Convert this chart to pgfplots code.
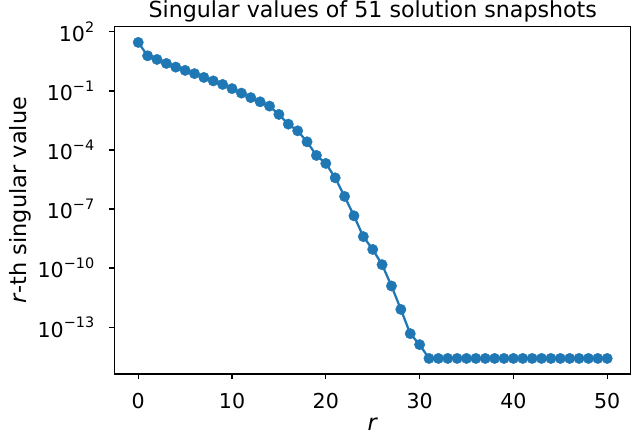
\documentclass[border=0pt]{standalone}
\usepackage{fontspec}
\setmainfont{DejaVu Sans}
\usepackage{pgfplots}
\pgfplotsset{compat=1.18}
\definecolor{mplblue}{HTML}{1F77B4}
% power-of-ten tick label, text font, raised exponent
\newcommand{\pten}[1]{10\raisebox{7pt}{\fontsize{10.8}{12}\selectfont #1}}

\begin{document}
\begin{tikzpicture}
  % page frame: 644x438 px at 0.75pt per px
  \useasboundingbox (-86pt,-48.2pt) rectangle (396.5pt,280.25pt);
  \begin{axis}[
      scale only axis,
      width=386.5pt, height=260.25pt,
      ymode=log,
      xmin=-2.5, xmax=52.5,
      ymin=4.17e-16, ymax=182,
      xtick={0,10,20,30,40,50},
      xticklabels={0,10,20,30,40,50},
      ytick={1e2,1e-1,1e-4,1e-7,1e-10,1e-13},
      yticklabels={\pten{2},\pten{−1},\pten{−4},\pten{−7},\pten{−10},\pten{−13}},
      yminorticks=false,
      tick pos=left,
      tick align=outside,
      major tick length=4pt,
      tick style={black, line width=1pt},
      axis line style={line width=1pt},
      ticklabel style={font=\fontsize{15.4}{18}\selectfont, inner sep=0pt},
      xticklabel style={anchor=north, yshift=-10.2pt},
      yticklabel style={anchor=east, xshift=-11.2pt},
      every axis title shift=0pt,
      title style={font=\fontsize{16.6}{19}\selectfont,
        at={(axis description cs:0.5,1)}, anchor=base, yshift=7pt},
      title={Singular values of 51 solution snapshots},
      xlabel style={font=\fontsize{16.8}{19}\selectfont,
        at={(axis description cs:0.5,0)}, anchor=base, yshift=-42.2pt},
      ylabel style={font=\fontsize{16.8}{19}\selectfont,
        at={(axis description cs:-0.1702,0.5)}, anchor=base},
      xlabel={\textit{r}},
      ylabel={\textit{r}-th singular value},
    ]
    \addplot[mplblue, line width=1.7pt, mark=*, mark size=3.9pt,
             mark options={fill=mplblue, draw=mplblue, line width=0.3pt}] table {
      r  s
      0  29.0
      1  6.04
      2  3.96
      3  2.48
      4  1.61
      5  1.10
      6  0.753
      7  0.483
      8  0.321
      9  0.213
      10 0.130
      11 0.0771
      12 0.0455
      13 0.0279
      14 0.0169
      15 6.38e-3
      16 2.05e-3
      17 9.38e-4
      18 2.59e-4
      19 5.28e-5
      20 2.07e-5
      21 3.85e-6
      22 4.37e-7
      23 4.52e-8
      24 3.97e-9
      25 8.89e-10
      26 1.50e-10
      27 1.24e-11
      28 7.98e-13
      29 4.70e-14
      30 1.30e-14
      31 2.59e-15
      32 2.59e-15
      33 2.59e-15
      34 2.59e-15
      35 2.59e-15
      36 2.59e-15
      37 2.59e-15
      38 2.59e-15
      39 2.59e-15
      40 2.59e-15
      41 2.59e-15
      42 2.59e-15
      43 2.59e-15
      44 2.59e-15
      45 2.59e-15
      46 2.59e-15
      47 2.59e-15
      48 2.59e-15
      49 2.59e-15
      50 2.59e-15
    };
  \end{axis}
\end{tikzpicture}
\end{document}
